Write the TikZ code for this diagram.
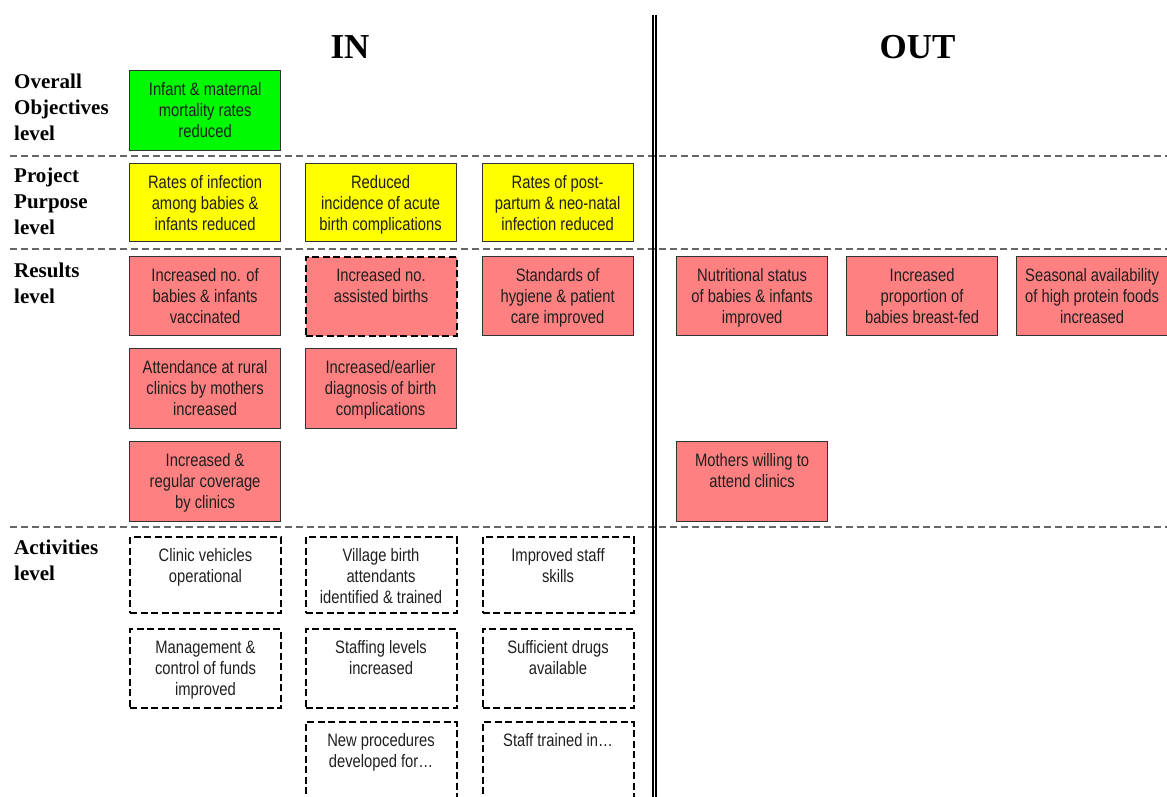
\documentclass[tikz,border=0pt]{standalone}
\usepackage{fontspec}
\setmainfont{Liberation Serif}
\newfontfamily\boxfont[FakeStretch=0.82]{Liberation Sans}
\definecolor{cgreen}{RGB}{0,250,0}
\definecolor{cyellow}{RGB}{255,255,0}
\definecolor{cpink}{RGB}{255,128,128}
\newcommand\bt[2]{\parbox[c][#1pt][t]{151pt}{\centering\rule{0pt}{24.5pt}#2}}
\newcommand\lt[1]{\parbox[c][80pt][t]{110pt}{\raggedright\rule{0pt}{18pt}#1}}
\tikzset{
  bx/.style={inner sep=0pt, anchor=north west, font=\boxfont\fontsize{18}{21}\selectfont, text=black!88},
  sbox/.style={bx, draw=black!80, line width=1.2pt},
  dbox/.style={bx, draw=black, line width=2pt, dash pattern=on 7pt off 3.5pt},
  lvl/.style={inner sep=0pt, anchor=north west, font=\bfseries\fontsize{21}{26}\selectfont},
  head/.style={inner sep=0pt, anchor=base, font=\bfseries\fontsize{35}{40}\selectfont},
  sep/.style={draw=black!60, line width=1.4pt, dash pattern=on 7pt off 4pt},
  vline/.style={draw=black, line width=2pt}
}
\begin{document}
\begin{tikzpicture}[x=1pt,y=1pt]
\useasboundingbox (0,0) rectangle (1167,-796);
\clip (0,0) rectangle (1167,-796);
% headings
\node[head] (in) at (350,-58.5) {IN};
\node[head] (out) at (917.5,-58.5) {OUT};
% separators
\coordinate (s1a) at (10,-156); \coordinate (s1b) at (1170,-156);
\coordinate (s2a) at (10,-249); \coordinate (s2b) at (1170,-249);
\coordinate (s3a) at (10,-527); \coordinate (s3b) at (1170,-527);
\draw[sep] (s1a) -- (s1b);
\draw[sep] (s2a) -- (s2b);
\draw[sep] (s3a) -- (s3b);
% double vertical line
\coordinate (v1a) at (652.7,-15); \coordinate (v1b) at (652.7,-800);
\coordinate (v2a) at (656.4,-15); \coordinate (v2b) at (656.4,-800);
\draw[vline] (v1a) -- (v1b);
\draw[vline] (v2a) -- (v2b);
% level labels
\node[lvl] (l1) at (14,-70) {\lt{Overall\\Objectives\\level}};
\node[lvl] (l2) at (14,-164) {\lt{Project\\Purpose\\level}};
\node[lvl] (l3) at (14,-259) {\lt{Results\\level}};
\node[lvl] (l4) at (14,-536) {\lt{Activities\\level}};
% overall objective
\node[sbox, fill=cgreen] (o1) at (129,-70) {\bt{80}{Infant \& maternal\\mortality rates\\reduced}};
% project purpose
\node[sbox, fill=cyellow] (p1) at (129,-163) {\bt{78}{Rates of infection\\among babies \&\\infants reduced}};
\node[sbox, fill=cyellow] (p2) at (304.5,-163) {\bt{78}{Reduced\\incidence of acute\\birth complications}};
\node[sbox, fill=cyellow] (p3) at (481.5,-163) {\bt{78}{Rates of post-\\partum \& neo-natal\\infection reduced}};
% results IN
\node[sbox, fill=cpink] (r11) at (129,-256) {\bt{79}{Increased no. of\\babies \& infants\\vaccinated}};
\node[dbox, fill=cpink] (r12) at (304.5,-256) {\bt{79}{Increased no.\\assisted births}};
\node[sbox, fill=cpink] (r13) at (481.5,-256) {\bt{79}{Standards of\\hygiene \& patient\\care improved}};
\node[sbox, fill=cpink] (r21) at (129,-348) {\bt{80}{Attendance at rural\\clinics by mothers\\increased}};
\node[sbox, fill=cpink] (r22) at (304.5,-348) {\bt{80}{Increased/earlier\\diagnosis of birth\\complications}};
\node[sbox, fill=cpink] (r31) at (129,-441) {\bt{80}{Increased \&\\regular coverage\\by clinics}};
% results OUT
\node[sbox, fill=cpink] (r14) at (676,-256) {\bt{79}{Nutritional status\\of babies \& infants\\improved}};
\node[sbox, fill=cpink] (r15) at (846,-256) {\bt{79}{Increased\\proportion of\\babies breast-fed}};
\node[sbox, fill=cpink] (r16) at (1016,-256) {\bt{79}{Seasonal availability\\of high protein foods\\increased}};
\node[sbox, fill=cpink] (r34) at (676,-441) {\bt{80}{Mothers willing to\\attend clinics}};
% activities
\node[dbox] (a11) at (129,-536) {\bt{76}{Clinic vehicles\\operational}};
\node[dbox] (a12) at (304.5,-536) {\bt{76}{Village birth\\attendants\\identified \& trained}};
\node[dbox] (a13) at (481.5,-536) {\bt{76}{Improved staff\\skills}};
\node[dbox] (a21) at (129,-628) {\bt{79}{Management \&\\control of funds\\improved}};
\node[dbox] (a22) at (304.5,-628) {\bt{79}{Staffing levels\\increased}};
\node[dbox] (a23) at (481.5,-628) {\bt{79}{Sufficient drugs\\available}};
\node[dbox] (a32) at (304.5,-721) {\bt{95}{New procedures\\developed for…}};
\node[dbox] (a33) at (481.5,-721) {\bt{95}{Staff trained in…}};
\end{tikzpicture}
\end{document}
